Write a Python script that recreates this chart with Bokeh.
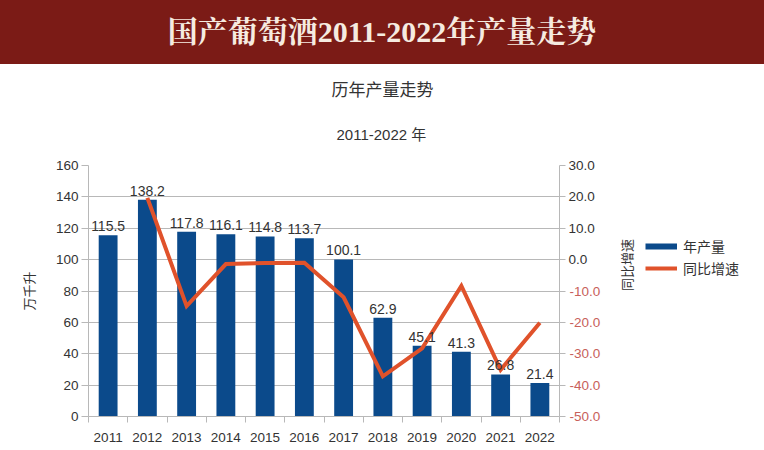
import math
from bokeh.plotting import figure
from bokeh.models import (ColumnDataSource, LabelSet, Legend, LegendItem, Title, Div,
                          LinearAxis, CategoricalAxis, Range1d, FixedTicker)
from bokeh.core.properties import value
from bokeh.layouts import column, row
from bokeh.embed import file_html
from bokeh.resources import INLINE

# ---- data ----
years = ["2011", "2012", "2013", "2014", "2015", "2016", "2017", "2018", "2019", "2020", "2021", "2022"]
output = [115.5, 138.2, 117.8, 116.1, 114.8, 113.7, 100.1, 62.9, 45.1, 41.3, 26.8, 21.4]
growth_years = ["2012", "2013", "2014", "2015", "2016", "2017", "2018", "2019", "2020", "2021", "2022"]
growth = [19.7, -14.8, -1.4, -1.1, -1.0, -12.0, -37.2, -28.3, -8.4, -35.1, -20.1]
left_ticks = [0, 20, 40, 60, 80, 100, 120, 140, 160]
right_ticks = [-50, -40, -30, -20, -10, 0, 10, 20, 30]

banner_text = "国产葡萄酒2011-2022年产量走势"
chart_title = "历年产量走势"
chart_subtitle = "2011-2022 年"
left_label = "万千升"
right_label = "同比增速"
series_names = ["年产量", "同比增速"]

FONT = "'Liberation Sans', 'Noto Sans CJK SC'"
BLUE = "#0b4a8b"
ORANGE = "#e0522b"
GRID = "#b8b8b8"
TXT = "#333333"
NEG = "#c8605a"
RED_BG = "#7b1b16"

# ---- banner ----
banner = Div(text=banner_text, width=764, height=64,
             styles={"background-color": RED_BG, "color": "#f6ebe0",
                     "font-family": "'Liberation Serif', 'Noto Serif CJK SC', 'Noto Sans CJK SC', serif",
                     "font-size": "30px", "font-weight": "bold", "text-align": "center",
                     "line-height": "64px", "width": "764px", "height": "64px",
                     "margin": "0", "padding": "0", "overflow": "hidden"})

# ---- main chart ----
p = figure(width=645, height=386, x_range=years, y_range=Range1d(0, 160),
           toolbar_location=None, output_backend="svg",
           x_axis_location=None, y_axis_location="left",
           min_border_left=88, min_border_right=79, min_border_top=101, min_border_bottom=34,
           outline_line_color=None, background_fill_color="white", border_fill_color="white")
p.extra_y_ranges = {"rate": Range1d(-50, 30)}

p.xgrid.visible = False
p.ygrid.ticker = FixedTicker(ticks=left_ticks)
p.ygrid.grid_line_color = GRID

# left axis
ya = p.yaxis[0]
ya.ticker = FixedTicker(ticks=left_ticks)
ya.axis_line_color = GRID
ya.major_tick_line_color = GRID
ya.major_tick_in = 0
ya.major_tick_out = 7
ya.minor_tick_line_color = None
ya.major_label_text_font = FONT
ya.major_label_text_font_size = "13.5px"
ya.major_label_text_color = TXT
ya.major_label_standoff = 3
ya.axis_label = left_label
ya.axis_label_text_font = FONT
ya.axis_label_text_font_size = "13px"
ya.axis_label_text_font_style = "normal"
ya.axis_label_text_color = TXT
ya.axis_label_standoff = 16

# right axis: ticks + non-negative labels
ra = LinearAxis(y_range_name="rate", ticker=FixedTicker(ticks=right_ticks))
ra.axis_line_color = GRID
ra.major_tick_line_color = GRID
ra.major_tick_in = 0
ra.major_tick_out = 6
ra.minor_tick_line_color = None
ra.major_label_text_font = FONT
ra.major_label_text_font_size = "13.5px"
ra.major_label_text_color = TXT
ra.major_label_standoff = 3
ra.major_label_overrides = {t: (f"{t:.1f}" if t >= 0 else "") for t in right_ticks}
p.add_layout(ra, "right")

# right axis: negative labels in red (overlaid on the same column)
rn = LinearAxis(y_range_name="rate", ticker=FixedTicker(ticks=right_ticks))
rn.axis_line_color = None
rn.major_tick_line_color = None
rn.major_tick_in = 0
rn.major_tick_out = 0
rn.minor_tick_line_color = None
rn.major_label_text_font = FONT
rn.major_label_text_font_size = "13.5px"
rn.major_label_text_color = NEG
rn.major_label_standoff = -28
rn.major_label_overrides = {t: (f"{t:.1f}" if t < 0 else "") for t in right_ticks}
rn.axis_label = right_label
rn.axis_label_text_font = FONT
rn.axis_label_text_font_size = "13px"
rn.axis_label_text_font_style = "normal"
rn.axis_label_text_color = TXT
rn.axis_label_standoff = 24
rn.axis_label_orientation = math.pi / 2
p.add_layout(rn, "right")

# bottom: boundary ticks (synthetic category coordinates) + category labels
tick_axis = LinearAxis(ticker=FixedTicker(ticks=list(range(0, 13))))
tick_axis.axis_line_color = GRID
tick_axis.major_tick_line_color = GRID
tick_axis.major_tick_in = 0
tick_axis.major_tick_out = 6
tick_axis.minor_tick_line_color = None
tick_axis.major_label_text_font_size = "1px"
tick_axis.major_label_overrides = {i: "" for i in range(13)}
tick_axis.major_label_standoff = 0
p.add_layout(tick_axis, "below")

cat_axis = CategoricalAxis()
cat_axis.axis_line_color = None
cat_axis.major_tick_line_color = None
cat_axis.major_label_text_font = FONT
cat_axis.major_label_text_font_size = "13.5px"
cat_axis.major_label_text_color = TXT
cat_axis.major_label_standoff = 4
p.add_layout(cat_axis, "below")

# bars
bsrc = ColumnDataSource(dict(x=years, y=output, t=[f"{v:.1f}" for v in output]))
p.vbar(x="x", top="y", width=0.48, source=bsrc, fill_color=BLUE, line_color=None)
p.add_layout(LabelSet(x="x", y="y", text="t", source=bsrc, y_offset=4,
                      text_align="center", text_baseline="bottom",
                      text_font=value(FONT), text_font_size=value("14px"),
                      text_color=value(TXT)))

# growth line
lsrc = ColumnDataSource(dict(x=growth_years, y=growth))
p.line(x="x", y="y", source=lsrc, y_range_name="rate", line_color=ORANGE,
       line_width=4, line_join="miter")

# titles (first added sits nearest the plot)
p.add_layout(Title(text=chart_subtitle, align="left", offset=248, standoff=46,
                   text_font=FONT, text_font_size="15px", text_font_style="normal",
                   text_color=TXT), "above")
p.add_layout(Title(text=chart_title, align="left", offset=243, standoff=2,
                   text_font=FONT, text_font_size="17px", text_font_style="normal",
                   text_color=TXT), "above")

# ---- legend panel ----
lf = figure(width=119, height=386, toolbar_location=None, output_backend="svg",
            x_axis_location=None, y_axis_location=None,
            x_range=Range1d(0, 1), y_range=Range1d(0, 1),
            min_border_left=0, min_border_right=0, min_border_top=101, min_border_bottom=34,
            outline_line_color=None, background_fill_color="white", border_fill_color="white")
lf.xgrid.visible = False
lf.ygrid.visible = False
nan = float("nan")
k_bar = lf.line(x=[0, 1], y=[nan, nan], line_color=BLUE, line_width=6)
k_line = lf.line(x=[0, 1], y=[nan, nan], line_color=ORANGE, line_width=4)
legend = Legend(items=[LegendItem(label=series_names[0], renderers=[k_bar]),
                       LegendItem(label=series_names[1], renderers=[k_line])],
                location="top_left", orientation="vertical",
                title=" ", title_text_font_size="1px", title_standoff=70,
                glyph_width=32, glyph_height=20, label_height=20, spacing=2,
                padding=18, margin=0, label_standoff=6,
                border_line_color=None, background_fill_alpha=0,
                label_text_font=FONT, label_text_font_size="14px", label_text_color=TXT)
lf.add_layout(legend, "center")

layout = column(banner, row(p, lf, spacing=0), spacing=0)
open("out.html", "w").write(file_html(layout, INLINE))
